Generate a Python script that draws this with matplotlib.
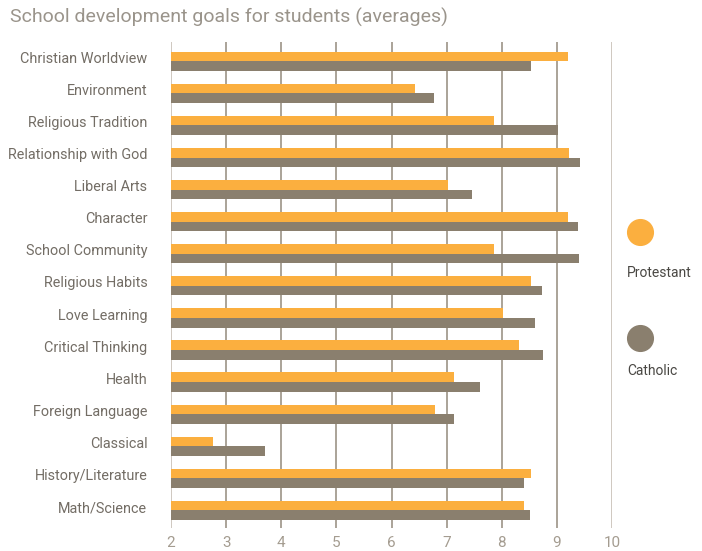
import matplotlib.pyplot as plt
from matplotlib.lines import Line2D
import numpy as np

categories = ["Christian Worldview", "Environment", "Religious Tradition", "Relationship with God",
              "Liberal Arts", "Character", "School Community", "Religious Habits", "Love Learning",
              "Critical Thinking", "Health", "Foreign Language", "Classical", "History/Literature",
              "Math/Science"]
protestant = [9.20, 6.43, 7.86, 9.22, 7.03, 9.20, 7.86, 8.53, 8.02, 8.32, 7.14, 6.79, 2.76, 8.53, 8.40]
catholic = [8.53, 6.77, 9.02, 9.42, 7.46, 9.38, 9.40, 8.73, 8.60, 8.75, 7.61, 7.14, 3.71, 8.40, 8.51]
ticks = [2, 3, 4, 5, 6, 7, 8, 9, 10]

orange = "#fbaf3f"
brown = "#8a7f6e"
grid_c = "#a49c90"
label_c = "#736d65"

plt.rcParams['font.family'] = ['Roboto', 'DejaVu Sans']

fig = plt.figure(figsize=(7.02, 5.51), dpi=100)
ax = fig.add_axes([0.2436, 0.0417, 0.6282, 0.882])

y = np.arange(len(categories))
h = 0.30
ax.barh(y - h / 2, protestant, height=h, color=orange, zorder=3)
ax.barh(y + h / 2, catholic, height=h, color=brown, zorder=3)

ax.set_xlim(2, 10)
ax.set_ylim(14.55, -0.6)
ax.set_xticks(ticks)
ax.set_xticklabels([str(t) for t in ticks])
# labels sit a touch above the middle of each pair
ax.set_yticks(y - 0.12)
ax.set_yticklabels(categories)
for t in ticks:
    c = "#cbc4bb" if t in (2, 10) else grid_c
    ax.axvline(t, color=c, lw=1.3, zorder=1)
for s in ax.spines.values():
    s.set_visible(False)
ax.tick_params(axis='both', length=0)
ax.tick_params(axis='x', colors=grid_c, labelsize=11, pad=6)
ax.tick_params(axis='y', colors=label_c, labelsize=10.4, pad=17)

fig.text(0.014, 0.968, "School development goals for students (averages)",
         fontsize=14, color="#9a948b", ha='left', va='center')

# legend
fig.add_artist(Line2D([640 / 702], [1 - 232 / 551], marker='o', markersize=18.5,
                      color=orange, transform=fig.transFigure))
fig.text(627 / 702, 1 - 273 / 551, "Protestant", fontsize=10, color="#4a4844", va='center')
fig.add_artist(Line2D([640 / 702], [1 - 338 / 551], marker='o', markersize=18.5,
                      color=brown, transform=fig.transFigure))
fig.text(627 / 702, 1 - 371 / 551, "Catholic", fontsize=10, color="#4a4844", va='center')

fig.savefig("out.png", dpi=100)
